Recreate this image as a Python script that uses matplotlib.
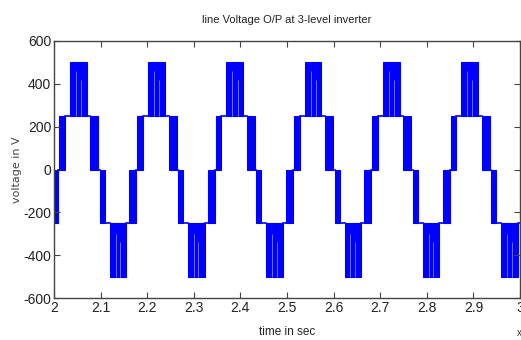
import matplotlib.pyplot as plt
import numpy as np

plt.rcParams["font.family"] = ["Liberation Sans Narrow", "Liberation Sans", "DejaVu Sans"]

# start of each cycle (x10^4)
cycle_starts = [1.843, 2.011, 2.179, 2.347, 2.515, 2.683, 2.851]

# switching bands inside one cycle: offset on, offset off, low level, high level
band_on = [0.000, 0.023, 0.067, 0.087, 0.109, 0.151]
band_off = [0.012, 0.059, 0.084, 0.098, 0.144, 0.166]
band_low = [0, 250, 0, -250, -500, -250]
band_high = [250, 500, 250, 0, -250, 0]
# level held between one band and the next
flat_level = [250, 250, 0, -250, -250, 0]
# a few lighter gaps seen inside the peak bands (offset within cycle)
slit_offsets = [0.036, 0.047, 0.121, 0.131]
slit_low = [250, 250, -500, -500]
slit_high = [460, 420, -300, -340]

fig = plt.figure(figsize=(5.21, 3.40), dpi=100)
ax = fig.add_axes([54 / 521, 42 / 340, 466 / 521, 257 / 340])

blue = "#0000ff"
for t0 in cycle_starts:
    left = [t0 + b for b in band_on]
    width = [off - on for on, off in zip(band_on, band_off)]
    height = [h - l for l, h in zip(band_low, band_high)]
    ax.bar(left, height, width=width, bottom=band_low, align="edge",
           color=blue, edgecolor=blue, linewidth=0.8)
    # flat parts between the bands
    for i in range(len(band_on)):
        x0 = t0 + band_off[i]
        x1 = t0 + band_on[i + 1] if i + 1 < len(band_on) else t0 + 0.168
        ax.plot([x0, x1], [flat_level[i], flat_level[i]], color=blue, lw=1.2)
    ax.vlines([t0 + s for s in slit_offsets], slit_low, slit_high,
              color="#7f7fff", lw=0.6)

ax.set_xlim(2, 3)
ax.set_ylim(-600, 600)
ax.set_xticks(np.arange(2, 3.01, 0.1))
ax.set_xticklabels(["2", "2.1", "2.2", "2.3", "2.4", "2.5", "2.6", "2.7", "2.8", "2.9", "3"])
ax.set_yticks(np.arange(-600, 601, 200))
ax.set_yticklabels(["-600", "-400", "-200", "0", "200", "400", "600"])

for lab in ax.get_xticklabels() + ax.get_yticklabels():
    lab.set_fontsize(10)
    lab.set_color("#222222")
ax.tick_params(direction="in", length=4, top=True, right=True, pad=2, color="#444444")
for s in ax.spines.values():
    s.set_color("#444444")
    s.set_linewidth(1.0)

ax.set_title("line Voltage O/P at 3-level inverter", fontsize=8,
             color="#222222", pad=13)
ax.set_xlabel("time in sec", fontsize=8.5, color="#222222", labelpad=8)
ax.set_ylabel("voltage in V", fontsize=8, color="#444444", labelpad=1,
              family="DejaVu Sans")
fig.text(0.99, 0.01, r"x10$^4$", fontsize=7, color="#333333", ha="left")

plt.savefig("out.png", dpi=100)
